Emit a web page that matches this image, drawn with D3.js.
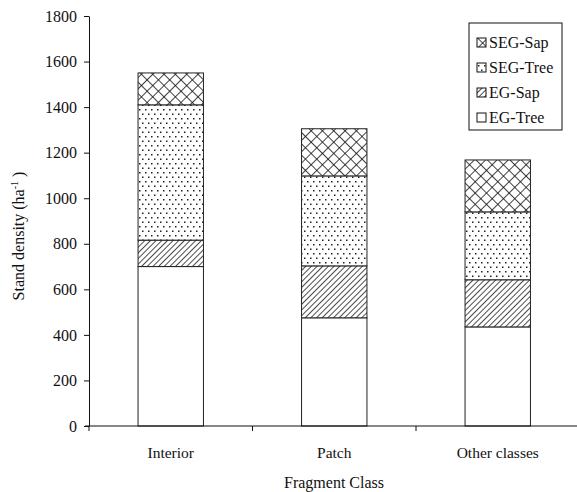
<!DOCTYPE html>
<html><head><meta charset="utf-8">
<script src="https://cdn.jsdelivr.net/npm/d3@7/dist/d3.min.js"></script>
<style>body{margin:0;background:#fff}svg{display:block}</style>
</head><body>
<script>
const categories = ["Interior", "Patch", "Other classes"];
const seriesNames = ["EG-Tree", "EG-Sap", "SEG-Tree", "SEG-Sap"];
const egTree  = [700, 475, 435];
const egSap   = [116, 228, 207];
const segTree = [594, 395, 298];
const segSap  = [140, 207, 228];
const yTicks = [0, 200, 400, 600, 800, 1000, 1200, 1400, 1600, 1800];

const FONT = '"Liberation Serif", "Times New Roman", serif';
const W = 577, H = 492;
const m = {left: 89, top: 16, bottom: 66};
const svg = d3.select("body").append("svg").attr("width", W).attr("height", H);
const defs = svg.append("defs");

// patterns
const pHatch = defs.append("pattern").attr("id","hatch").attr("patternUnits","userSpaceOnUse")
  .attr("width",4).attr("height",4).attr("patternTransform","rotate(45)");
pHatch.append("rect").attr("width",4).attr("height",4).attr("fill","#fff");
pHatch.append("line").attr("x1",0).attr("y1",0).attr("x2",0).attr("y2",4).attr("stroke","#111").attr("stroke-width",1.5);

const pCross = defs.append("pattern").attr("id","cross").attr("patternUnits","userSpaceOnUse")
  .attr("width",8).attr("height",8).attr("patternTransform","rotate(45)");
pCross.append("rect").attr("width",8).attr("height",8).attr("fill","#fff");
pCross.append("line").attr("x1",0).attr("y1",0).attr("x2",0).attr("y2",8).attr("stroke","#111").attr("stroke-width",1.6);
pCross.append("line").attr("x1",0).attr("y1",0).attr("x2",8).attr("y2",0).attr("stroke","#111").attr("stroke-width",1.6);

const pDots = defs.append("pattern").attr("id","dots").attr("patternUnits","userSpaceOnUse")
  .attr("width",6).attr("height",9);
pDots.append("rect").attr("width",6).attr("height",9).attr("fill","#fff");
pDots.append("rect").attr("x",1).attr("y",1).attr("width",1.5).attr("height",1.5).attr("fill","#222");
pDots.append("rect").attr("x",4).attr("y",5.5).attr("width",1.5).attr("height",1.5).attr("fill","#222");

const fills = {"EG-Tree":"#fff","EG-Sap":"url(#hatch)","SEG-Tree":"url(#dots)","SEG-Sap":"url(#cross)"};

const x = d3.scaleBand().domain(categories).range([m.left, 579.5]).paddingInner(0.6).paddingOuter(0.3);
const y = d3.scaleLinear().domain([0, 1800]).range([H - m.bottom, m.top]);

const table = categories.map((c,i)=>({cat:c, "EG-Tree":egTree[i], "EG-Sap":egSap[i], "SEG-Tree":segTree[i], "SEG-Sap":segSap[i]}));
const stack = d3.stack().keys(seriesNames)(table);

svg.append("g").selectAll("g").data(stack).join("g")
  .attr("fill", d=>fills[d.key])
  .selectAll("rect").data(d=>d).join("rect")
  .attr("x", d=>x(d.data.cat)).attr("width", x.bandwidth())
  .attr("y", d=>y(d[1])).attr("height", d=>y(d[0])-y(d[1]))
  .attr("stroke","#222").attr("stroke-width",1);

// y axis
const yAxis = svg.append("g").attr("transform",`translate(${m.left},0)`)
  .call(d3.axisLeft(y).tickValues(yTicks).tickFormat(d3.format("d")).tickSize(5).tickSizeOuter(0).tickPadding(7));
yAxis.selectAll("text").style("font-size","16px").style("font-family",FONT).attr("fill","#111");
yAxis.select(".domain").attr("stroke","#111");
yAxis.selectAll(".tick line").attr("stroke","#111");

// x axis
const x0 = y(0);
svg.append("line").attr("x1",m.left-4).attr("x2",W).attr("y1",x0).attr("y2",x0).attr("stroke","#111");
const bounds = categories.map(c=>x(c) - x.step()*0.3);
svg.append("g").selectAll("line").data(bounds).join("line")
  .attr("x1",d=>d).attr("x2",d=>d).attr("y1",x0).attr("y2",x0+5).attr("stroke","#111");
svg.append("g").selectAll("text").data(categories).join("text")
  .attr("x",d=>x(d)+x.bandwidth()/2).attr("y",x0+32).attr("text-anchor","middle")
  .style("font-size","15.5px").style("font-family",FONT).attr("fill","#111").text(d=>d);
svg.append("text").attr("x",334).attr("y",488).attr("text-anchor","middle")
  .style("font-size","16px").style("font-family",FONT).attr("fill","#111").text("Fragment Class");

// y label
const yl = svg.append("text").attr("transform","translate(24,236) rotate(-90)").attr("text-anchor","middle")
  .style("font-size","16px").style("font-family",FONT).attr("fill","#111");
yl.append("tspan").text("Stand density (ha");
yl.append("tspan").text("-1").attr("dy",-6).style("font-size","10px");
yl.append("tspan").text(" )").attr("dy",6);

// legend
const lg = svg.append("g");
lg.append("rect").attr("x",469).attr("y",23).attr("width",93).attr("height",107).attr("fill","#fff").attr("stroke","#111");
const legOrder = seriesNames.slice().reverse();
const items = lg.selectAll("g").data(legOrder).join("g").attr("transform",(d,i)=>`translate(477,${48+i*25})`);
items.append("rect").attr("x",0).attr("y",-10).attr("width",9).attr("height",9).attr("fill",d=>fills[d]).attr("stroke","#111");
items.append("text").attr("x",12).attr("y",0).style("font-size","16px").style("font-family",FONT).attr("fill","#111").text(d=>d);
</script>
</body></html>
